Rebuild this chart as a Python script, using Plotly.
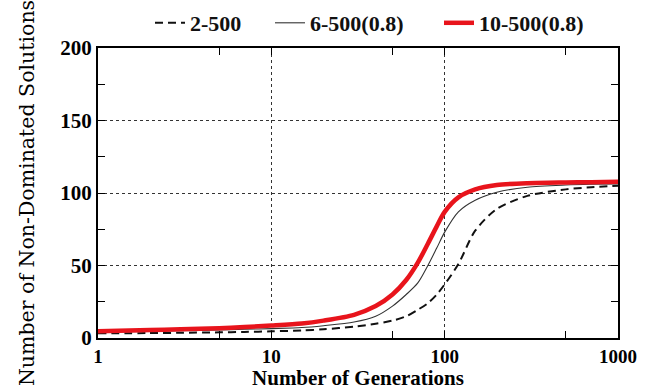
import plotly.graph_objects as go

generations = [1, 2, 3, 5, 7, 10, 15, 20, 30, 40, 50, 60, 70, 80, 90, 100, 120, 150, 200, 300, 500, 700, 1000]

s_2_500 = [3.2, 3.4, 3.6, 3.9, 4.2, 4.6, 5.2, 6.0, 7.8, 9.8, 12.0, 15.0, 19.5, 24.0, 30.0, 37.0, 51.0, 74.0, 89.0, 98.0, 102.5, 104.0, 105.0]
s_6_500 = [4.2, 4.6, 5.0, 5.5, 6.0, 6.5, 7.2, 8.5, 11.0, 15.0, 22.0, 30.0, 38.0, 50.0, 62.0, 73.0, 87.0, 95.0, 100.5, 104.0, 105.5, 106.0, 106.3]
s_10_500 = [4.7, 5.5, 6.0, 6.8, 7.6, 8.6, 10.0, 12.0, 16.0, 22.0, 30.0, 40.0, 52.0, 65.0, 77.0, 87.0, 97.0, 102.5, 105.5, 106.8, 107.3, 107.5, 107.7]

names = ["2-500", "6-500(0.8)", "10-500(0.8)"]
x_tickvals = [1, 10, 100, 1000]
x_ticktext = ["1", "10", "100", "1000"]
y_tickvals = [0, 50, 100, 150, 200]

SERIF = "Liberation Serif"

fig = go.Figure()
fig.add_trace(go.Scatter(x=generations, y=s_2_500, name=names[0], mode="lines",
                         line=dict(color="#111111", width=2, dash="8px,5px", shape="spline", smoothing=0.8),
                         legend="legend"))
fig.add_trace(go.Scatter(x=generations, y=s_6_500, name=names[1], mode="lines",
                         line=dict(color="#333333", width=1.1, shape="spline", smoothing=0.8),
                         legend="legend2"))
fig.add_trace(go.Scatter(x=generations, y=s_10_500, name=names[2], mode="lines",
                         line=dict(color="#e8141c", width=4.5, shape="spline", smoothing=0.8),
                         legend="legend3"))

W, H = 667, 390
L, R, T, B = 98, 49, 48, 52

def leg(xpx, ypx=23):
    return dict(x=xpx / W, y=1 - ypx / H, xref="container", yref="container",
                orientation="h", yanchor="middle", xanchor="left",
                font=dict(family=SERIF, size=22, color="#111111", weight="bold"),
                bgcolor="rgba(0,0,0,0)", borderwidth=0, tracegroupgap=0, itemwidth=30)

fig.update_layout(
    width=W, height=H,
    margin=dict(l=L, r=R, t=T, b=B, pad=0, autoexpand=False),
    font=dict(family=SERIF, color="black"),
    paper_bgcolor="white", plot_bgcolor="white",
    showlegend=True,
    legend=leg(150),
    legend2=leg(270),
    legend3=leg(439),
    xaxis=dict(
        type="log", range=[0, 3],
        tickvals=x_tickvals, ticktext=x_ticktext,
        ticks="inside", ticklen=7, tickwidth=1.2, tickcolor="black",
        showline=True, linecolor="black", linewidth=2, mirror="ticks",
        showgrid=True, gridcolor="#333333", griddash="dot", gridwidth=1,
        zeroline=False,
        tickfont=dict(family=SERIF, size=19, color="black", weight="bold"),
        minor=dict(tickvals=[5, 50, 500], ticks="inside", ticklen=7, tickwidth=1.2,
                   tickcolor="black", showgrid=False),
        title=dict(text="<b>Number of Generations</b>",
                   font=dict(family=SERIF, size=21, color="black"), standoff=0),
    ),
    yaxis=dict(
        range=[0, 200], tickvals=y_tickvals,
        ticks="inside", ticklen=7, tickwidth=1.2, tickcolor="black",
        showline=True, linecolor="black", linewidth=2, mirror="ticks",
        showgrid=True, gridcolor="#333333", griddash="dot", gridwidth=1,
        zeroline=False,
        tickfont=dict(family=SERIF, size=21, color="black", weight="bold"),
        minor=dict(tickvals=[25, 75, 125, 175], ticks="inside", ticklen=7, tickwidth=1.2,
                   tickcolor="black", showgrid=False),
        title=dict(text="Number of Non-Dominated Solutions",
                   font=dict(family="DejaVu Serif", size=20.5, color="black"), standoff=20),
    ),
)

fig.write_html("out.html")
